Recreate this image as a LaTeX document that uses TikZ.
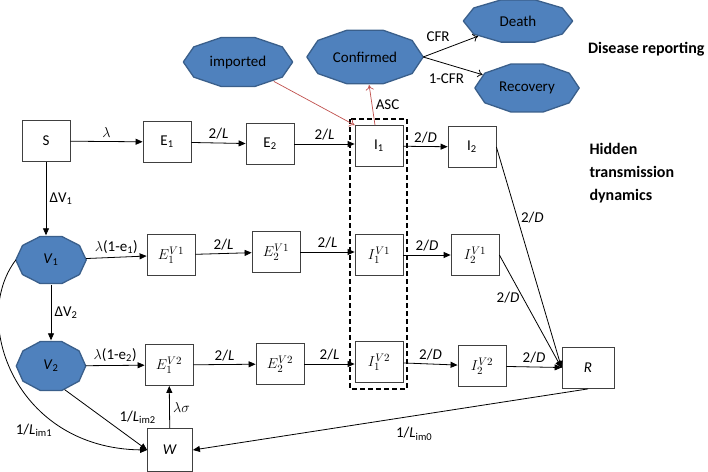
\documentclass[tikz,border=0pt]{standalone}
\usepackage{fontspec}
\setmainfont{Carlito}
\usetikzlibrary{shapes,arrows,positioning,calc,arrows.meta,backgrounds}

\definecolor{blobfill}{HTML}{4F81BD}
\definecolor{blobline}{HTML}{3A5F8B}
\definecolor{ascred}{HTML}{C0504D}

\tikzset{
  box/.style={draw=black!75, line width=0.8pt, minimum width=48pt, minimum height=41pt, inner sep=0pt},
  blob/.style={ellipse, inner sep=0pt},
  flow/.style={-{Triangle[length=7pt,width=6pt]}, line width=0.8pt},
  report/.style={-{To[length=5pt,width=8pt]}, line width=0.8pt},
  ascflow/.style={-{To[length=5pt,width=8pt]}, draw=ascred, line width=0.7pt},
  title/.style={font=\fontsize{16}{23}\selectfont\bfseries, align=left}
}

\begin{document}
\begin{tikzpicture}[x=1pt, y=-1pt, every node/.append style={font=\fontsize{15}{17}\selectfont}]
    \useasboundingbox (0,0) rectangle (708,471);

    % Reporting
    \node[blob, minimum width=109pt, minimum height=51pt] (imp) at (238,62) {imported};
    \node[blob, minimum width=116pt, minimum height=56pt] (conf) at (365,57) {Confirmed};
    \node[blob, minimum width=109pt, minimum height=44pt] (death) at (518,21) {Death};
    \node[blob, minimum width=104pt, minimum height=50pt] (rec) at (527,88) {Recovery};
    \node[title, anchor=east] (report) at (708,49) {Disease reporting};
    \node[title, anchor=north west] (hidden) at (586,140) {Hidden\\transmission\\dynamics};

    % Unvaccinated
    \node[box] (S) at (46,141) {S};
    \node[box] (E1) at (167,142) {E\textsubscript{1}};
    \node[box] (E2) at (270,144) {E\textsubscript{2}};
    \node[box] (I1) at (379,146) {I\textsubscript{1}};
    \node[box] (I2) at (472,147) {I\textsubscript{2}};

    % First dose
    \node[blob, minimum width=70pt, minimum height=49pt] (V1) at (51,260) {\textit{V}\textsubscript{1}};
    \node[box] (E1v1) at (171,255) {$E_1^{V1}$};
    \node[box] (E2v1) at (276,252) {$E_2^{V1}$};
    \node[box] (I1v1) at (379,255) {$I_1^{V1}$};
    \node[box] (I2v1) at (475,255) {$I_2^{V1}$};

    % Second dose
    \node[blob, minimum width=69pt, minimum height=51pt] (V2) at (51,366) {\textit{V}\textsubscript{2}};
    \node[box] (E1v2) at (169,365) {$E_1^{V2}$};
    \node[box] (E2v2) at (280,364) {$E_2^{V2}$};
    \node[box] (I1v2) at (379,362) {$I_1^{V2}$};
    \node[box] (I2v2) at (482,366) {$I_2^{V2}$};
    \node[box, minimum width=52pt] (R) at (588,368) {\textit{R}};
    \node[box, minimum width=45pt, minimum height=43pt] (W) at (170,450) {\textit{W}};

    % Blob outlines
    \begin{scope}[on background layer]
    \foreach \n in {imp,conf,death,rec,V1,V2}
        \filldraw[fill=blobfill, draw=blobline, line width=1.3pt, line join=round]
            (\n.east) \foreach \a in {36,72,...,324} {
              -- ($(\n.center) + {cos(\a)}*(\n.east) - {cos(\a)}*(\n.center)
                               + {sin(\a)}*(\n.north) - {sin(\a)}*(\n.center)$)
            } -- cycle;
    \end{scope}

    % Infectious column
    \draw[line width=2.2pt, dash pattern=on 5pt off 3pt] (350,119) rectangle (407,389);

    % Flows
    \draw[flow] (S) -- node[above] {$\lambda$} (E1);
    \draw[flow] (E1) -- node[above] {2/\textit{L}} (E2);
    \draw[flow] (E2) -- node[above] {2/\textit{L}} (E2 -| I1v1.west);
    \draw[flow] (I1) -- node[above] {2/\textit{D}} (I2);
    \draw[flow] (S) -- node[right] {ΔV\textsubscript{1}} (S |- V1.north);
    \draw[flow] (V1) -- node[above] {$\lambda$(1-e\textsubscript{1})} (E1v1);
    \draw[flow] (E1v1) -- node[above] {2/\textit{L}} (E2v1);
    \draw[flow] (E2v1) -- node[above] {2/\textit{L}} (E2v1 -| I1v1.west);
    \draw[flow] (I1v1) -- node[above] {2/\textit{D}} (I2v1);
    \draw[flow] (V1) -- node[right] {ΔV\textsubscript{2}} (V2);
    \draw[flow] (V2) -- node[above] {$\lambda$(1-e\textsubscript{2})} (E1v2);
    \draw[flow] (E1v2) -- node[above] {2/\textit{L}} (E2v2);
    \draw[flow] (E2v2) -- node[above] {2/\textit{L}} (E2v2 -| I1v2.west);
    \draw[flow] (I1v2) -- node[above] {2/\textit{D}} (I2v2);
    \draw[flow] (I2v2) -- node[above] {2/\textit{D}} (R);
    \draw[flow] (I2.east) -- node[pos=0.32, right] {2/\textit{D}} (R.west);
    \draw[flow] (I2v1.east) -- node[pos=0.38, left] {2/\textit{D}} (R.west);
    \draw[flow] (W) -- node[right] {$\lambda\sigma$} (E1v2);
    \draw[flow] (R.south) -- node[pos=0.44, below=8pt] {1/\textit{L}\textsubscript{im0}} (W.east);
    \draw[flow] (V2.300) -- node[pos=0.62, above right] {1/\textit{L}\textsubscript{im2}} (W.west);
    \draw[flow] (V1.west) .. controls (-30,320) and (15,448) .. (W.west);
    \node (lim1) at (34,430) {1/\textit{L}\textsubscript{im1}};

    % Reporting links
    \draw[ascflow] (imp) -- (I1.north west);
    \draw[ascflow] ([xshift=-4pt]I1.north) -- node[right] {ASC} (conf);
    \draw[report] (conf.east) -- node[pos=0.55, above left] {CFR} (death);
    \draw[report] (conf.east) -- node[pos=0.75, below left=0pt] {1-CFR} (rec);
\end{tikzpicture}
\end{document}
